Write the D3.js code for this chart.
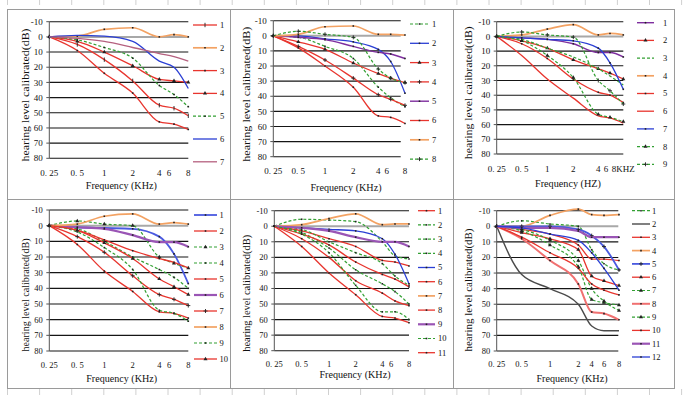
<!DOCTYPE html>
<html><head><meta charset="utf-8">
<script src="https://cdn.jsdelivr.net/npm/d3@7"></script>
<style>
body{margin:0;background:#fff}
svg{display:block}
svg text{font-family:"Liberation Serif","Times New Roman","DejaVu Serif",serif !important;font-weight:normal}
</style>
</head><body>
<svg id="c" width="683" height="401"></svg>
<script>
// ---------- data ----------
const FREQ = [0.25, 0.5, 1, 2, 4, 6, 8];
const Y_TICKS = [-10, 0, 10, 20, 30, 40, 50, 60, 70, 80];
const X_LABELS = ["0. 25", "0. 5", "1", "2", "4", "6", "8"];
const X_LABELS_HZ = ["0. 25", "0. 5", "1", "2", "4", "6", "8KHZ"];
const Y_TITLE = "hearing level calibrated(dB)";
const X_TITLE = "Frequency (KHz)";
const X_TITLE_HZ = "Frequency (HZ)";

const p1Values = [
  [0, 5, 15, 29, 45, 47, 52],
  [0, -0.5, -5, -6, 0, -1.5, 0],
  [0, 9, 24, 37, 56, 57.5, 61],
  [0, 3, 10, 19, 28, 29, 30],
  [0, 2, 7, 14, 32, 38, 46],
  [0, -1, -0.5, 3, 16, 20, 34],
  [0, 1, 3, 7, 11, 13, 16]
];
const p2Values = [
  [0, 1, 7, 15, 34, 41, 47],
  [0, 0, 2, 4, 9, 17, 38],
  [0, 4, 9, 18, 25, 28, 31],
  [0, 7, 16, 28, 39, 42, 46],
  [0, 1, 2.5, 7, 11, 12, 15],
  [0, 8, 20, 34, 53, 54, 58],
  [0, -1, -6, -6.5, -1, -1, -0.5],
  [0, -3, -1, 1, 22, 28, 31]
];
const p3Values = [
  [0, 1, 2, 5, 11, 11, 14],
  [0, 3, 8, 16, 22, 25, 29],
  [0, 2, 8, 14, 22, 27, 33],
  [0, -1, -5, -8, -1, -2, -1],
  [0, 5, 15, 29, 38, 40, 45],
  [0, 13, 29, 42, 54, 55.5, 59],
  [0, 1, 2, 3, 8, 18, 36],
  [0, 3, 13, 28, 53, 55, 58],
  [0, -3, -1, 0.5, 30, 37, 46]
];
const p4Values = [
  [0, 1, 1.5, 2, 7, 18, 37],
  [0, 12, 29, 42, 55, 56, 59],
  [0, -3, -1, 0, 20, 24, 27],
  [0, 2, 10, 20, 28, 33, 40],
  [0, 3, 9, 16, 21, 23.5, 27],
  [0, 1, 2, 6, 10.5, 10.5, 13.5],
  [0, 7, 17, 32, 44, 47, 51],
  [0, -1, -6, -7.5, -1, -2, -1],
  [0, 4, 14, 28, 54, 56, 61],
  [0, 3, 11, 21, 34, 39, 44]
];
const p5Values = [
  [0, 3, 8, 13, 22, 23, 25.5],
  [0, -4.5, -4, -3, 10, 19, 21],
  [0, 2, 10, 17, 24, 32, 38],
  [0, 4, 14, 28, 37, 42, 50],
  [0, 1, 2, 3, 8, 18, 37],
  [0, 5, 12, 23, 31, 34, 39],
  [0, -1, -5, -8, -1, -1.5, -1.5],
  [0, 8, 20, 35, 43, 48, 51],
  [0, 1, 3, 7, 10, 10, 13],
  [0, 5, 17, 38, 55, 55, 60],
  [0, 13, 30, 44, 58, 59, 62]
];
const p6Values = [
  [0, -3.5, -1.5, 0, 15, 24, 28],
  [0, 31, 40, 50, 64, 67, 67],
  [0, 2, 5, 12, 21, 21, 22],
  [0, 0, -7, -11, -7.5, -7, -7.5],
  [0, 0, 0, 2, 6, 13, 28],
  [0, 4, 8, 15, 32, 35, 38],
  [0, 3, 12, 26, 47, 49, 50.5],
  [0, 8, 22, 37, 55, 56, 60],
  [0, 2, 9, 22, 40, 48, 54],
  [0, 7, 17, 27, 37, 41, 44],
  [0, 1, 1, 3, 7, 7, 7],
  [0, 1, 5, 9, 17, 27, 41]
];
const p1Names = ["1", "2", "3", "4", "5", "6", "7"];
const p2Names = ["1", "2", "3", "4", "5", "6", "7", "8"];
const p3Names = ["1", "2", "3", "4", "5", "6", "7", "8", "9"];
const p4Names = ["1", "2", "3", "4", "5", "6", "7", "8", "9", "10"];
const p5Names = ["1", "2", "3", "4", "5", "6", "7", "8", "9", "10", "11"];
const p6Names = ["1", "2", "3", "4", "5", "6", "7", "8", "9", "10", "11", "12"];

// ---------- styles ----------
const p1Styles = ["red:bar", "orange:dot", "red:dot", "red:tri", "green:dot", "blue:none", "mauve:none"];
const p2Styles = ["green:dot", "blue:dot", "red:tri", "red:plus", "purple:dot", "red:dot", "orange:dot", "green:plus"];
const p3Styles = ["purple:dot", "red:tri", "green:none", "orange:dot", "red:dot", "red:none", "blue:dot", "green:tri", "green:plus"];
const p4Styles = ["blueT:dot", "red:dot", "green:tri", "green:dot", "red:dot", "purpleT:dot", "red:plus", "orange:dot", "green:dot", "red:tri"];
const p5Styles = ["red:dot", "green:dot", "green:dot", "green:dot", "blue:dot", "red:dot", "orange:dot", "red:dot", "purpleT:dot", "green:dot", "red:dot"];
const p6Styles = ["green:dot", "black:none", "red:dot", "orange:dot", "blueT:plus", "red:tri", "green:tri", "pink:dot", "green:tri", "red:dot", "purpleT:dot", "blue:dot"];

const COLORS = {
  red: {c: "#e8352e", w: 1.3},
  orange: {c: "#f3a263", w: 1.7},
  blue: {c: "#2b3fd4", w: 1.3},
  blueT: {c: "#4a5ae0", w: 1.8},
  purple: {c: "#7e2e9e", w: 1.4},
  purpleT: {c: "#9a55b5", w: 2.2},
  mauve: {c: "#b5607f", w: 1.3},
  green: {c: "#33a033", w: 1.2, dash: "3,2"},
  black: {c: "#4a4a4a", w: 1.4},
  pink: {c: "#f07070", w: 2}
};

// per-panel layout (pixel positions of the frequency ticks, plot extents, text placement)
const LAYOUT = [
  {x: [49.3, 77.3, 104.3, 132.7, 159.3, 174, 188.3], ldx: [0, 0, 0, 0, 0, -5, 0], gridEnd: 188.3, yTop: 21.7, yBot: 158.3, tickY: 176, titleX: 25, titleY: 95, titleLen: 133, xtX: 121.3, xtY: 189, xtLen: 71, fs: 9, leg: {x1: 193, x2: 217, tx: 220, y0: 25, dy: 22.8}},
  {x: [273.3, 298.3, 325, 353.3, 378.3, 390.7, 405], ldx: [0, 0, 0, 0, 0, -4, 0], gridEnd: 400.7, yTop: 20.7, yBot: 156.7, tickY: 174, titleX: 246.7, titleY: 94.2, titleLen: 135, xtX: 346, xtY: 190.5, xtLen: 71, fs: 9, leg: {x1: 410, x2: 429, tx: 432, y0: 24, dy: 19.3}},
  {x: [496.7, 521.7, 547.3, 573.3, 598.3, 610, 623.3], ldx: [0, 0, 0, 0, 0, -4, 0], gridEnd: 623.3, yTop: 21.7, yBot: 154, tickY: 171.5, titleX: 468.3, titleY: 92.7, titleLen: 133, xtX: 568, xtY: 186.5, xtLen: 66, fs: 9, leg: {x1: 637, x2: 654, tx: 663, y0: 22.7, dy: 17.7}},
  {x: [49.3, 77.3, 104.3, 132.7, 159.3, 174, 188.3], ldx: [0, 0, 0, 0, 0, -5, 0], gridEnd: 188.3, yTop: 210, yBot: 351, tickY: 368, titleX: 25, titleY: 295, titleLen: 113, xtX: 121.7, xtY: 382, xtLen: 71, fs: 8.5, leg: {x1: 194, x2: 217, tx: 219.5, y0: 215, dy: 16}},
  {x: [274.3, 301.7, 329, 355.7, 382.3, 395, 409], ldx: [0, 0, 0, 0, 0, -4, 0], gridEnd: 409, yTop: 210.7, yBot: 350.7, tickY: 366.5, titleX: 246.7, titleY: 293.3, titleLen: 117, xtX: 355, xtY: 378, xtLen: 71, fs: 8.5, leg: {x1: 418, x2: 435, tx: 438, y0: 210.7, dy: 14.2}},
  {x: [496.7, 521.7, 550, 578.3, 591.7, 604, 619], ldx: [0, 0, 0, 0, 0, 0, 0], gridEnd: 618.3, yTop: 210.7, yBot: 351, tickY: 366.5, titleX: 468.3, titleY: 290, titleLen: 123, xtX: 572, xtY: 381.5, xtLen: 71, fs: 8.5, leg: {x1: 632, x2: 650, tx: 652, y0: 210.7, dy: 13.3}}
];

const PANELS = [
  {values: p1Values, names: p1Names, styles: p1Styles, labels: X_LABELS, xTitle: X_TITLE},
  {values: p2Values, names: p2Names, styles: p2Styles, labels: X_LABELS, xTitle: X_TITLE},
  {values: p3Values, names: p3Names, styles: p3Styles, labels: X_LABELS_HZ, xTitle: X_TITLE_HZ},
  {values: p4Values, names: p4Names, styles: p4Styles, labels: X_LABELS, xTitle: X_TITLE},
  {values: p5Values, names: p5Names, styles: p5Styles, labels: X_LABELS, xTitle: X_TITLE},
  {values: p6Values, names: p6Names, styles: p6Styles, labels: X_LABELS, xTitle: X_TITLE}
];

// ---------- drawing ----------
const svg = d3.select("#c");

// faint spreadsheet ticks
const tickXs = d3.range(0, 22).map(i => 7.5 + i * 32.1);
svg.append("g").selectAll("line").data(tickXs).join("line")
  .attr("x1", d => d).attr("x2", d => d).attr("y1", 0).attr("y2", 5)
  .attr("stroke", "#d0d0d0").attr("stroke-width", 1);
svg.append("g").selectAll("line").data(tickXs).join("line")
  .attr("x1", d => d).attr("x2", d => d).attr("y1", 389).attr("y2", 395)
  .attr("stroke", "#d0d0d0").attr("stroke-width", 1);

// frames
const frame = svg.append("g").attr("fill", "none").attr("stroke", "#9a9a9a").attr("stroke-width", 1);
frame.append("rect").attr("x", 7.5).attr("y", 9.5).attr("width", 667).attr("height", 379);
frame.append("line").attr("x1", 230.5).attr("x2", 230.5).attr("y1", 9.5).attr("y2", 388.5);
frame.append("line").attr("x1", 453.5).attr("x2", 453.5).attr("y1", 9.5).attr("y2", 388.5);
frame.append("line").attr("x1", 7.5).attr("x2", 674.5).attr("y1", 199.5).attr("y2", 199.5);

function markerPath(kind) {
  if (kind === "tri") return d3.symbol(d3.symbolTriangle, 7)();
  if (kind === "plus") return "M-2,0H2M0,-2V2";
  if (kind === "bar") return "M0,-2.2V2.2";
  if (kind === "dot") return d3.symbol(d3.symbolSquare, 2.5)();
  return null;
}

PANELS.forEach((P, i) => {
  const L = LAYOUT[i];
  const g = svg.append("g");
  const x = d3.scaleLinear().domain(FREQ).range(L.x);
  const y = d3.scaleLinear().domain([-10, 80]).range([L.yTop, L.yBot]);

  // gridlines
  g.append("g").selectAll("line").data(Y_TICKS).join("line")
    .attr("x1", x(FREQ[0])).attr("x2", L.gridEnd)
    .attr("y1", d => y(d)).attr("y2", d => y(d))
    .attr("stroke", d => d === 0 ? "#a8a8a8" : "#151515")
    .attr("stroke-width", d => d === 0 ? 2 : 1.1);

  // y axis line + ticks
  g.append("line").attr("x1", x(FREQ[0])).attr("x2", x(FREQ[0]))
    .attr("y1", y(-10)).attr("y2", y(80)).attr("stroke", "#555");
  g.append("g").selectAll("line").data(Y_TICKS).join("line")
    .attr("x1", x(FREQ[0]) - 3).attr("x2", x(FREQ[0]))
    .attr("y1", d => y(d)).attr("y2", d => y(d)).attr("stroke", "#555");

  // y tick labels
  g.append("g").selectAll("text").data(Y_TICKS).join("text")
    .attr("x", x(FREQ[0]) - 6.5).attr("y", d => y(d)).attr("dy", "0.35em")
    .attr("text-anchor", "end").attr("font-size", L.fs).attr("fill", "#111")
    .text(d => d);

  // x tick labels
  g.append("g").selectAll("text").data(FREQ).join("text")
    .attr("x", (d, k) => x(d) + L.ldx[k]).attr("y", L.tickY)
    .attr("text-anchor", "middle").attr("font-size", L.fs).attr("fill", "#111")
    .text((d, k) => P.labels[k]);

  // titles
  g.append("text")
    .attr("transform", `translate(${L.titleX},${L.titleY}) rotate(-90)`)
    .attr("text-anchor", "middle").attr("dy", "0.35em")
    .attr("font-size", 10.5).attr("fill", "#111")
    .attr("textLength", L.titleLen).attr("lengthAdjust", "spacingAndGlyphs")
    .text(Y_TITLE);
  g.append("text").attr("x", L.xtX).attr("y", L.xtY)
    .attr("text-anchor", "middle").attr("font-size", 10.5).attr("fill", "#111")
    .attr("textLength", L.xtLen).attr("lengthAdjust", "spacingAndGlyphs")
    .text(P.xTitle);

  // series
  const line = d3.line().x(d => x(d.f)).y(d => y(d.v)).curve(d3.curveMonotoneX);
  P.values.forEach((vals, s) => {
    const [ck, mk] = P.styles[s].split(":");
    const st = COLORS[ck];
    const pts = vals.map((v, k) => ({f: FREQ[k], v}));
    g.append("path").datum(pts).attr("d", line)
      .attr("fill", "none").attr("stroke", st.c).attr("stroke-width", st.w)
      .attr("stroke-dasharray", st.dash || null);
    const mp = markerPath(mk);
    if (mp) {
      g.append("g").selectAll("path").data(pts).join("path")
        .attr("transform", d => `translate(${x(d.f)},${y(d.v)})`)
        .attr("d", mp).attr("fill", "#222").attr("stroke", mk === "plus" || mk === "bar" ? "#222" : "none")
        .attr("stroke-width", 0.9);
    }
    // legend
    const ly = L.leg.y0 + s * L.leg.dy;
    g.append("line").attr("x1", L.leg.x1).attr("x2", L.leg.x2).attr("y1", ly).attr("y2", ly)
      .attr("stroke", st.c).attr("stroke-width", st.w).attr("stroke-dasharray", st.dash || null);
    if (mp) {
      g.append("path").attr("transform", `translate(${(L.leg.x1 + L.leg.x2) / 2},${ly})`)
        .attr("d", mp).attr("fill", "#222").attr("stroke", mk === "plus" || mk === "bar" ? "#222" : "none")
        .attr("stroke-width", 0.9);
    }
    g.append("text").attr("x", L.leg.tx).attr("y", ly).attr("dy", "0.35em")
      .attr("font-size", 8.5).attr("fill", "#111").text(P.names[s]);
  });
});
</script>
</body></html>
